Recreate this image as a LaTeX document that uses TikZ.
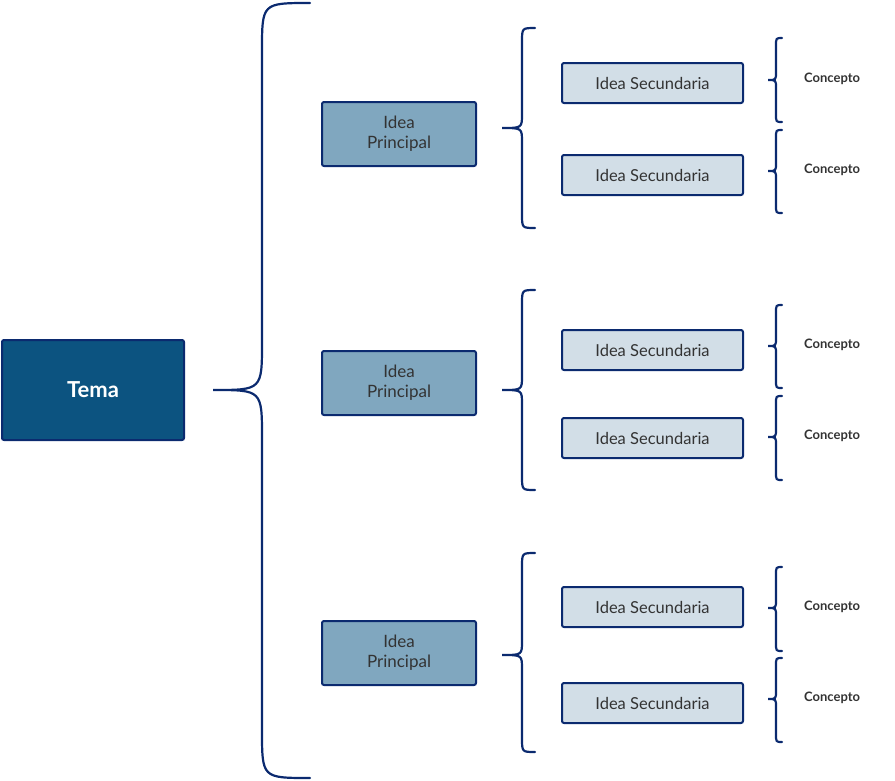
\documentclass[tikz,border=0pt]{standalone}
\usepackage{fontspec}
\setmainfont{Lato}
\definecolor{navy}{HTML}{0B2A6F}
\definecolor{tema}{HTML}{0C5380}
\definecolor{prin}{HTML}{80A7BF}
\definecolor{sec}{HTML}{D2DEE7}
\definecolor{txt}{HTML}{333333}
\newcommand{\mybrace}[7]{% xend xstraight xtip ytop ymid ybot r
  \draw[brace] (#1,#4) .. controls (#2,#4) .. (#2,#4+#7) -- (#2,#5-#7) .. controls (#2,#5) .. (#3,#5)
    .. controls (#2,#5) .. (#2,#5+#7) -- (#2,#6-#7) .. controls (#2,#6) .. (#1,#6);}
\begin{document}
\begin{tikzpicture}[x=1pt,y=-1pt,
  brace/.style={draw=navy,line width=2.2pt,line cap=round},
  box/.style={draw=navy,line width=2pt,rounded corners=2pt,inner sep=0pt,text=txt,align=center,font=\fontsize{16}{19}\selectfont},
  tema/.style={box,fill=tema,text=white,minimum width=182pt,minimum height=100pt,font=\fontsize{22}{26}\selectfont\bfseries},
  prin/.style={box,fill=prin,minimum width=154pt,minimum height=64pt,font=\fontsize{17}{20}\selectfont},
  sec/.style={box,fill=sec,minimum width=181pt,minimum height=40pt,font=\fontsize{16.5}{20}\selectfont},
  conc/.style={anchor=west,inner sep=0pt,text=txt,font=\fontsize{13}{15}\selectfont\bfseries}]
\useasboundingbox (0,0) rectangle (895,780);
\node[tema] (t) at (93,390) {Tema};
\mybrace{310}{262}{213}{3}{390}{778}{48}
\foreach \i/\y/\a/\b/\c in {1/134/28/128/228, 2/383/290/390/490, 3/653/553/655/752}{
  \node[prin] (p\i) at (399,\y) {Idea\\Principal};
  \mybrace{535}{522}{502}{\a}{\b}{\c}{14}
}
\foreach \j/\y/\a/\b/\c in {1/83/38/80/122, 2/175/130/171/213, 3/350/305/346/388, 4/438/396/437/480, 5/607/567/608/651, 6/703/658/699/742}{
  \node[sec] (s\j) at (652.5,\y) {Idea Secundaria};
  \mybrace{782}{776}{768}{\a}{\b}{\c}{8}
  \node[conc] (c\j) at (804,\b-1) {Concepto};
}
\end{tikzpicture}
\end{document}
